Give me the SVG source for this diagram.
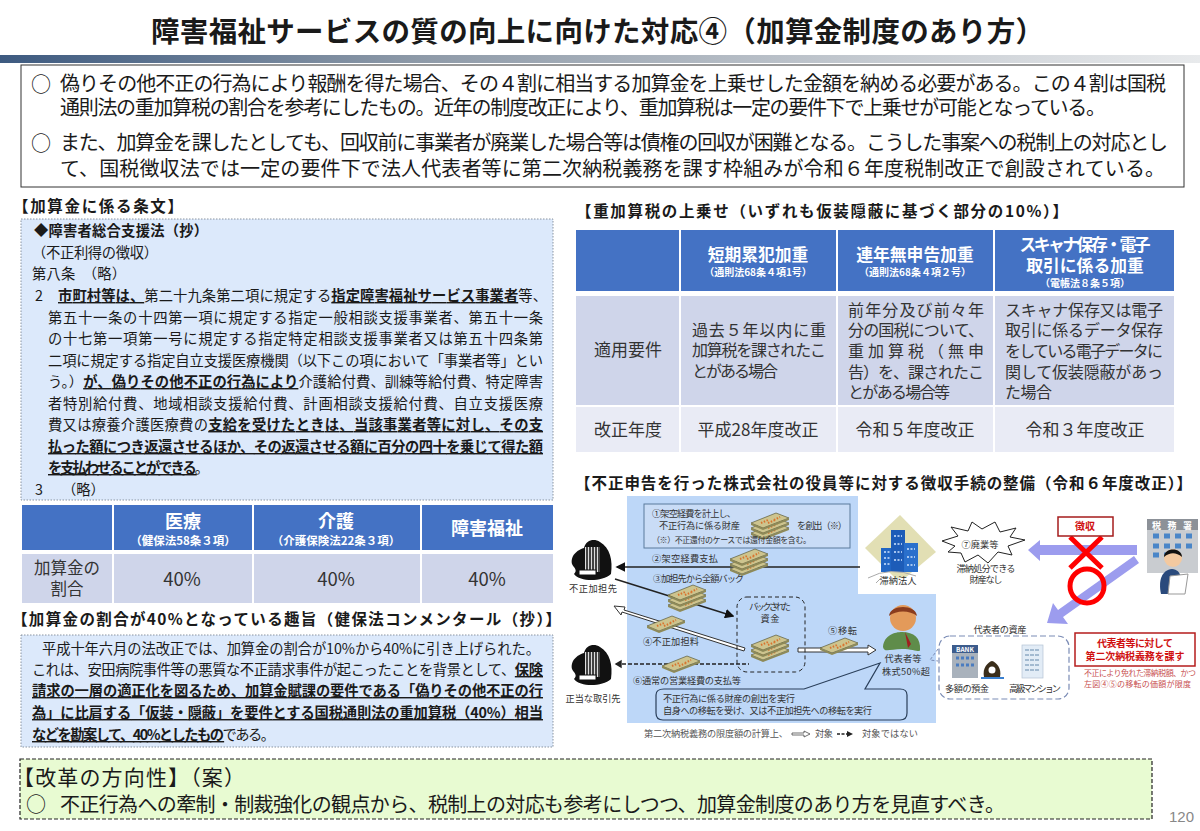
<svg xmlns="http://www.w3.org/2000/svg" width="1200" height="831" viewBox="0 0 1200 831">
<style>
text{font-family:"Noto Sans CJK JP","Noto Sans CJK SC",sans-serif;fill:#1a1a1a}
.b{font-weight:700}
.bu{font-weight:700;text-decoration:underline}
.m{text-anchor:middle}
.t14{font-size:14.3px}
.t15{font-size:15.5px;font-weight:700}
.t19{font-size:20px}
.tb{font-size:16px;fill:#333}
.w{fill:#fff;font-weight:700}
.d{font-size:9.2px;fill:#333}
.r{fill:#d01010;font-weight:700}
.rs{fill:#c85050;font-size:8px}
.cell{fill:#cfd5ea}
.cell2{fill:#e9ebf5}
.head{fill:#4472c4}
.note{fill:#dce9fb;stroke:#8a94a0;stroke-dasharray:1.5 1.5}
</style>
<defs>
<linearGradient id="bar" x1="0" x2="1" y1="0" y2="0"><stop offset="0" stop-color="#3d5a80"/><stop offset=".35" stop-color="#8e9aa8"/><stop offset=".75" stop-color="#c8cdd3"/><stop offset="1" stop-color="#e8eaec"/></linearGradient>
<g id="bill"><path d="M-19 2 6-8 19-3-7 7Z" fill="#cdc48e" stroke="#5a5a3a" stroke-width=".7"/><path d="M-9 2-2-1M-2 2 5-1M4-1 10-4" stroke="#d9732e" stroke-width="2" stroke-dasharray="1.5 1.5"/><path d="M-19 2-7 7 19-3V-1L-7 9-19 4Z" fill="#8e8a58"/></g>
<g id="stack"><use href="#bill" y="6"/><use href="#bill" y="1"/><use href="#bill" y="-4"/></g>
<g id="corp"><path d="M-20 4C-22-6-12-11-8-12-6-20 2-22 8-18 18-12 21 0 19 14 10 22-12 22-18 14-14 10-18 8-20 4Z" fill="#111"/><rect x="-7" y="-13" width="15" height="25" fill="#ddd"/><path d="M-5-13V12M-2-13V12M1-13V12M4-13V12M7-13V12" stroke="#111" stroke-width="1.5"/><rect x="-13" y="10" width="17" height="5" fill="#fff" stroke="#111"/></g>
<marker id="ah" markerWidth="6" markerHeight="6" refX="5" refY="3" orient="auto"><path d="M0 0 6 3 0 6Z" fill="#111"/></marker>
</defs>
<rect width="1200" height="831" fill="#fff"/>
<g id="title">
<text x="151" y="42" font-size="28.5" class="b" textLength="893">障害福祉サービスの質の向上に向けた対応④（加算金制度のあり方）</text>
<rect x="0" y="55" width="1200" height="8" fill="url(#bar)"/>
</g>
<g id="summary">
<rect x="21" y="65" width="1163" height="122" fill="#fff" stroke="#333"/>
<text x="31" y="92" class="t19">○</text>
<text x="60" y="91" class="t19" textLength="1106">偽りその他不正の行為により報酬を得た場合、その４割に相当する加算金を上乗せした金額を納める必要がある。この４割は国税</text>
<text x="60" y="115" class="t19" textLength="1046">通則法の重加算税の割合を参考にしたもの。近年の制度改正により、重加算税は一定の要件下で上乗せが可能となっている。</text>
<text x="31" y="151" class="t19">○</text>
<text x="60" y="150" class="t19" textLength="1108">また、加算金を課したとしても、回収前に事業者が廃業した場合等は債権の回収が困難となる。こうした事案への税制上の対応とし</text>
<text x="60" y="176" class="t19" textLength="1105">て、国税徴収法では一定の要件下で法人代表者等に第二次納税義務を課す枠組みが令和６年度税制改正で創設されている。</text>
</g>
<g id="articles">
<text x="13" y="212" class="t15" textLength="170">【加算金に係る条文】</text>
<rect x="21" y="219" width="532" height="281" class="note"/>
<text x="34" y="236" class="t14 b" textLength="174">◆障害者総合支援法（抄）</text>
<text x="32" y="258" class="t14" textLength="126">（不正利得の徴収）</text>
<text x="32" y="279" class="t14" textLength="94">第八条　（略）</text>
<text x="35" y="301" class="t14">2</text>
<text x="58" y="301" class="t14" textLength="489"><tspan class="bu">市町村等は、</tspan>第二十九条第二項に規定する<tspan class="bu">指定障害福祉サービス事業者</tspan>等、</text>
<text x="48" y="323" class="t14" textLength="495">第五十一条の十四第一項に規定する指定一般相談支援事業者、第五十一条</text>
<text x="48" y="344" class="t14" textLength="495">の十七第一項第一号に規定する指定特定相談支援事業者又は第五十四条第</text>
<text x="48" y="366" class="t14" textLength="495">二項に規定する指定自立支援医療機関（以下この項において「事業者等」とい</text>
<text x="48" y="387" class="t14" textLength="495">う。）<tspan class="bu">が、偽りその他不正の行為により</tspan>介護給付費、訓練等給付費、特定障害</text>
<text x="48" y="409" class="t14" textLength="495">者特別給付費、地域相談支援給付費、計画相談支援給付費、自立支援医療</text>
<text x="48" y="430" class="t14" textLength="495">費又は療養介護医療費の<tspan class="bu">支給を受けたときは、</tspan><tspan class="bu">当該事業者等に対し、その支</tspan></text>
<text x="48" y="452" class="t14" textLength="495"><tspan class="bu">払った額につき返還させるほか、その返還させる額に百分の四十を乗じて得た額</tspan></text>
<text x="48" y="473" class="t14" textLength="161"><tspan class="bu">を支払わせることができる</tspan>。</text>
<text x="35" y="495" class="t14">3</text>
<text x="62" y="495" class="t14">（略）</text>
</g>
<g id="table-rates">
<rect x="22" y="505" width="90" height="45" class="head"/><rect x="114" y="505" width="138" height="45" class="head"/><rect x="254" y="505" width="166" height="45" class="head"/><rect x="422" y="505" width="131" height="45" class="head"/>
<rect x="22" y="554" width="90" height="49" class="cell"/><rect x="114" y="554" width="138" height="49" class="cell"/><rect x="254" y="554" width="166" height="49" class="cell"/><rect x="422" y="554" width="131" height="49" class="cell"/>
<text x="183" y="528" class="w m" font-size="18">医療</text>
<text x="183" y="545" class="w m" font-size="11.5">（健保法58条３項）</text>
<text x="336" y="528" class="w m" font-size="18">介護</text>
<text x="336" y="545" class="w m" font-size="11.5">（介護保険法22条３項）</text>
<text x="487" y="535" class="w m" font-size="18">障害福祉</text>
<text x="67" y="574" class="m" font-size="16.5" style="fill:#333">加算金の</text>
<text x="67" y="595" class="m" font-size="16.5" style="fill:#333">割合</text>
<text x="182" y="586" class="m" font-size="18.5" style="fill:#333">40%</text><text x="336" y="586" class="m" font-size="18.5" style="fill:#333">40%</text><text x="487" y="586" class="m" font-size="18.5" style="fill:#333">40%</text>
</g>
<g id="purpose">
<text x="12" y="625" class="t15" textLength="549">【加算金の割合が40%となっている趣旨（健保法コンメンタール（抄）】</text>
<rect x="21" y="635" width="532" height="112" class="note"/>
<text x="42" y="654" class="t14" textLength="498">平成十年六月の法改正では、加算金の割合が10%から40%に引き上げられた。</text>
<text x="32" y="675" class="t14" textLength="511">これは、安田病院事件等の悪質な不正請求事件が起こったことを背景として、<tspan class="bu">保険</tspan></text>
<text x="32" y="696" class="t14" textLength="511"><tspan class="bu">請求の一層の適正化を図るため、加算金賦課の要件である「偽りその他不正の行</tspan></text>
<text x="32" y="718" class="t14" textLength="511"><tspan class="bu">為」に比肩する「仮装・隠蔽」を要件とする国税通則法の重加算税（40%）相当</tspan></text>
<text x="32" y="740" class="t14" textLength="243"><tspan class="bu">などを勘案して、40%としたもの</tspan>である。</text>
</g>
<g id="direction">
<rect x="20" y="759" width="1132" height="60" fill="#e8fbd2" stroke="#222" stroke-dasharray="4 2" stroke-width="1.2"/>
<text x="13" y="785" font-size="21" textLength="232">【改革の方向性】（案）</text>
<text x="26" y="812" font-size="20">○</text>
<text x="60" y="812" font-size="20" textLength="945">不正行為への牽制・制裁強化の観点から、税制上の対応も参考にしつつ、加算金制度のあり方を見直すべき。</text>
</g>
<text x="1169" y="822" font-size="15" style="font-family:'Liberation Sans',sans-serif;fill:#888">120</text>
<g id="table-surcharge">
<text x="576" y="217" class="t15" textLength="492">【重加算税の上乗せ（いずれも仮装隠蔽に基づく部分の10%）】</text>
<rect x="576" y="230" width="103" height="61" class="head"/><rect x="681" y="230" width="155" height="61" class="head"/><rect x="838" y="230" width="155" height="61" class="head"/><rect x="995" y="230" width="179" height="61" class="head"/>
<rect x="576" y="296" width="103" height="109" class="cell"/><rect x="681" y="296" width="155" height="109" class="cell"/><rect x="838" y="296" width="155" height="109" class="cell"/><rect x="995" y="296" width="179" height="109" class="cell"/>
<rect x="576" y="407" width="103" height="45" class="cell2"/><rect x="681" y="407" width="155" height="45" class="cell2"/><rect x="838" y="407" width="155" height="45" class="cell2"/><rect x="995" y="407" width="179" height="45" class="cell2"/>
<text x="758" y="261" class="w m" font-size="16.8">短期累犯加重</text><text x="758" y="276" class="w m" font-size="10">（通則法68条４項1号）</text>
<text x="915" y="261" class="w m" font-size="16.8">連年無申告加重</text><text x="915" y="276" class="w m" font-size="10">（通則法68条４項２号）</text>
<text x="1085" y="251" class="w m" font-size="16.8" textLength="131">スキャナ保存・電子</text><text x="1085" y="272" class="w m" font-size="16.8">取引に係る加重</text><text x="1085" y="287" class="w m" font-size="10">（電帳法８条５項）</text>
<text x="628" y="356" class="m tb" style="font-size:17px">適用要件</text>
<text x="692" y="336" class="tb" textLength="134">過去５年以内に重</text><text x="692" y="356" class="tb" textLength="134">加算税を課されたこ</text><text x="692" y="377" class="tb" textLength="86">とがある場合</text>
<text x="848" y="316" class="tb" textLength="136">前年分及び前々年</text><text x="848" y="336" class="tb" textLength="136">分の国税について、</text><text x="848" y="357" class="tb" textLength="136">重加算税（無申</text><text x="848" y="378" class="tb" textLength="136">告）を、課されたこ</text><text x="848" y="398" class="tb" textLength="102">とがある場合等</text>
<text x="1005" y="316" class="tb" textLength="158">スキャナ保存又は電子</text><text x="1005" y="336" class="tb" textLength="158">取引に係るデータ保存</text><text x="1005" y="357" class="tb" textLength="158">をしている電子データに</text><text x="1005" y="378" class="tb" textLength="158">関して仮装隠蔽があっ</text><text x="1005" y="398" class="tb" textLength="47">た場合</text>
<text x="628" y="436" class="m tb" style="font-size:17px">改正年度</text><text x="758" y="436" class="m tb" style="font-size:17px">平成28年度改正</text><text x="915" y="436" class="m tb" style="font-size:17px">令和５年度改正</text><text x="1085" y="436" class="m tb" style="font-size:17px">令和３年度改正</text>
</g>
<text id="scheme-heading" x="575" y="489" class="t15" textLength="617">【不正申告を行った株式会社の役員等に対する徴収手続の整備（令和６年度改正）】</text>
<g id="panel">
<path d="M627 496H858V594H936V723H627Z" fill="#bdd7f8"/>
<rect x="644" y="504" width="206" height="44" fill="#c9dcf6" stroke="#5b7b9b"/>
<text x="652" y="517" class="d" textLength="84">①架空経費を計上し、</text>
<text x="659" y="529" class="d" textLength="81">不正行為に係る財産</text>
<use href="#stack" x="770" y="525"/>
<text x="797" y="529" class="d" textLength="50">を創出（※）</text>
<text x="652" y="543" class="d" textLength="159" style="font-size:8px">（※）不正還付のケースでは還付金額を含む。</text>
</g>
<g id="connectors" fill="none">
<path d="M860 567H617" stroke="#222" stroke-width="1.6" marker-end="url(#ah)"/>
<path d="M615 579 733 616" stroke="#222" stroke-width="1.6" marker-end="url(#ah)"/>
<path d="M616 664H749" stroke="#222" stroke-width="1.6" stroke-dasharray="4 2"/>
<path d="M621 661 616 664 621 667Z" stroke="#222" stroke-width="1.4" fill="#222"/>
<path d="M745 648 624 610 625 607 614 606 621 615 622 612 744 651Z" fill="#fff" stroke="#333"/>
<path d="M798 648H868V645L876 650 868 655V652H798Z" fill="#fff" stroke="#333"/>
<rect x="737" y="597" width="68" height="75" rx="10" stroke="#222" stroke-dasharray="4 3"/>
<path d="M1137 545H1040V540L1028 550 1040 561V555H1137Z" fill="#9c9cee"/>
<path d="M1134 556 1058 610 1053 603 1047 623 1068 624 1063 617 1139 563Z" fill="#9c9cee"/>
<path d="M792 733H804V731L810 734 804 737V735H792Z" fill="#fff" stroke="#333" stroke-width=".7"/>
<path d="M837 734H848" stroke="#222" stroke-width="1.4" stroke-dasharray="3 1.5"/><path d="M847 731 853 734 847 737Z" fill="#222"/>
</g>
<g id="bills">
<use href="#stack" x="749" y="561"/><use href="#stack" x="687" y="597"/><use href="#stack" x="770" y="647"/>
<use href="#bill" x="666" y="624"/><use href="#bill" x="839" y="646"/><use href="#bill" x="681" y="664"/>
</g>
<g id="flow-labels">
<text x="652" y="562" class="d" textLength="66">②架空経費支払</text>
<text x="653" y="582" class="d" textLength="91">③加担先から全額バック</text>
<text x="770" y="610" class="d m" textLength="42">バックされた</text><text x="770" y="622" class="d m" textLength="19">資金</text>
<text x="643" y="645" class="d" textLength="56">④不正加担料</text>
<text x="828" y="634" class="d" textLength="29">⑤移転</text>
<text x="633" y="684" class="d" textLength="108">⑥通常の営業経費の支払等</text>
</g>
<g id="callout">
<path d="M664 689H804L880 663 865 689H900Q907 689 907 695V713Q907 720 900 720H663Q656 720 656 713V695Q656 689 664 689Z" fill="#bdd7f8" stroke="#2a3f5a" stroke-width="1.2"/>
<text x="663" y="702" class="d" textLength="132">不正行為に係る財産の創出を実行</text>
<text x="663" y="714" class="d" textLength="209">自身への移転を受け、又は不正加担先への移転を実行</text>
</g>
<g id="partner-a"><use href="#corp" x="592" y="560"/><text x="593" y="592" class="d m" textLength="48">不正加担先</text></g>
<g id="partner-b"><use href="#corp" x="592" y="665"/><text x="593" y="702" class="d m" textLength="55">正当な取引先</text></g>
<g id="representative">
<path d="M883 647C884 635 895 632 902 632 914 632 921 638 920 650 920 653 914 649 902 649 890 649 884 653 883 647Z" fill="#5f8c4a"/>
<circle cx="903" cy="618" r="13" fill="#e39a5a"/><path d="M889 616C890 604 916 604 917 616 910 610 896 610 889 616Z" fill="#8a3c1e"/>
<path d="M905 632 908 648 911 644Z" fill="#a02020"/>
<text x="903" y="662" class="d m" textLength="37">代表者等</text><text x="906" y="675" class="d m" textLength="48">株式50%超</text>
</g>
<g id="delinquent">
<path d="M900 515 936 552 905 578H895L865 548Z" fill="#e2dfb4"/>
<rect x="881" y="548" width="12" height="24" fill="#2166c4"/><rect x="891" y="530" width="14" height="42" fill="#1d5cb8"/><rect x="904" y="543" width="14" height="29" fill="#2a70cc"/>
<path d="M884 552H890M884 558H890M884 564H890M894 536H902M894 544H902M894 552H902M894 560H902M907 549H915M907 557H915M907 565H915" stroke="#cfe3ff" stroke-width="1.5" stroke-dasharray="2 1.5"/>
<path d="M868 578Q890 566 916 576M876 583Q880 578 884 577" stroke="#aaa" fill="none"/>
<text x="898" y="584" class="d m" textLength="37">滞納法人</text>
</g>
<g id="closure">
<path d="M942 541 958 536 951 527 968 531 972 522 982 529 995 522 1000 532 1016 528 1010 537 1025 540 1008 546 1012 555 998 552 988 563 978 555 965 562 961 553 948 552 955 546Z" fill="#fff" stroke="#222"/>
<text x="980" y="548" class="d m" textLength="37">⑦廃業等</text>
<text x="986" y="572" class="d m" textLength="59">滞納処分できる</text><text x="986" y="583" class="d m" textLength="33">財産なし</text>
</g>
<g id="collection">
<path d="M1070 537 1102 568M1102 537 1070 568" stroke="#f00" stroke-width="5" fill="none"/>
<circle cx="1087" cy="586" r="17" stroke="#f00" stroke-width="5" fill="none"/>
<rect x="1058" y="517" width="55" height="19" fill="#fff" stroke="#a51c1c" stroke-width="1.5"/>
<text x="1085" y="530" class="r m" font-size="10">徴収</text>
</g>
<g id="tax-office">
<rect x="1147" y="519" width="51" height="54" fill="#c9ccd0"/><rect x="1147" y="519" width="51" height="11" fill="#8c9198"/>
<text x="1172" y="528.500" class="w m" font-size="9" textLength="40">税務署</text>
<path d="M1153 536H1159M1164 536H1170M1175 536H1181M1186 536H1192M1153 546H1159M1164 546H1170M1175 546H1181M1186 546H1192M1153 555H1159M1164 555H1170" stroke="#4a86c8" stroke-width="5"/>
<path d="M1161 594C1158 580 1162 570 1172 569 1182 570 1183 580 1180 594Z" fill="#2a4a7c"/>
<circle cx="1173" cy="558" r="9" fill="#f3c9a0"/><path d="M1164 557C1164 547 1182 547 1182 557 1176 552 1170 552 1164 557Z" fill="#111"/>
<path d="M1170 576 1188 574 1185 594 1168 594Z" fill="#fff" stroke="#999"/>
</g>
<g id="assets">
<text x="1000" y="633" class="d m" textLength="53">代表者の資産</text>
<path d="M938 649 930 660 938 661" fill="none" stroke="#7a8bb5" stroke-dasharray="3 2"/>
<rect x="939" y="636" width="130" height="63" rx="11" fill="#fff" stroke="#7a8bb5" stroke-width="1.2" stroke-dasharray="6 3"/>
<rect x="952" y="645" width="26" height="33" fill="#a9b2bc"/><rect x="952" y="645" width="26" height="8" fill="#3c5c8c"/>
<text x="965" y="651.500" class="w m" font-size="6.500">BANK</text>
<path d="M956 658H974M956 665H974" stroke="#4a7cc0" stroke-width="3" stroke-dasharray="3 2"/>
<path d="M984 677C982 668 988 662 992 661 996 662 1002 668 1000 677Z" fill="#3a2d1a"/><circle cx="992" cy="670" r="3.500" fill="#fff"/><path d="M981 678H1004" stroke="#3a80d0" stroke-width="2"/>
<rect x="1022" y="645" width="21" height="33" fill="#e2ecf6" stroke="#b4c4d4" stroke-width=".7"/>
<path d="M1025 650H1040M1025 655H1040M1025 660H1040M1025 665H1040M1025 670H1040" stroke="#8fa9c4" stroke-width="1.4" stroke-dasharray="4 1"/>
<text x="967" y="692" class="d m" textLength="44">多額の預金</text><text x="1035" y="692" class="d m" textLength="52">高級マンション</text>
</g>
<g id="secondary-liability">
<rect x="1075" y="633" width="120" height="33" fill="#fff" stroke="#b51d1d" stroke-width="1.5"/>
<text x="1135" y="647" class="r m" font-size="10" textLength="76">代表者等に対して</text>
<text x="1135" y="660" class="r m" font-size="10" textLength="99">第二次納税義務を課す</text>
<text x="1084" y="676" class="rs" textLength="112">不正により免れた滞納税額、かつ</text>
<text x="1084" y="687" class="rs" textLength="107">左図④⑤の移転の価額が限度</text>
</g>
<g id="legend">
<text x="644" y="737" class="d" textLength="144" style="fill:#555">第二次納税義務の限度額の計算上、</text>
<text x="815" y="737" class="d" textLength="18" style="fill:#555">対象</text>
<text x="862" y="737" class="d" textLength="56" style="fill:#555">対象ではない</text>
</g>
</svg>
